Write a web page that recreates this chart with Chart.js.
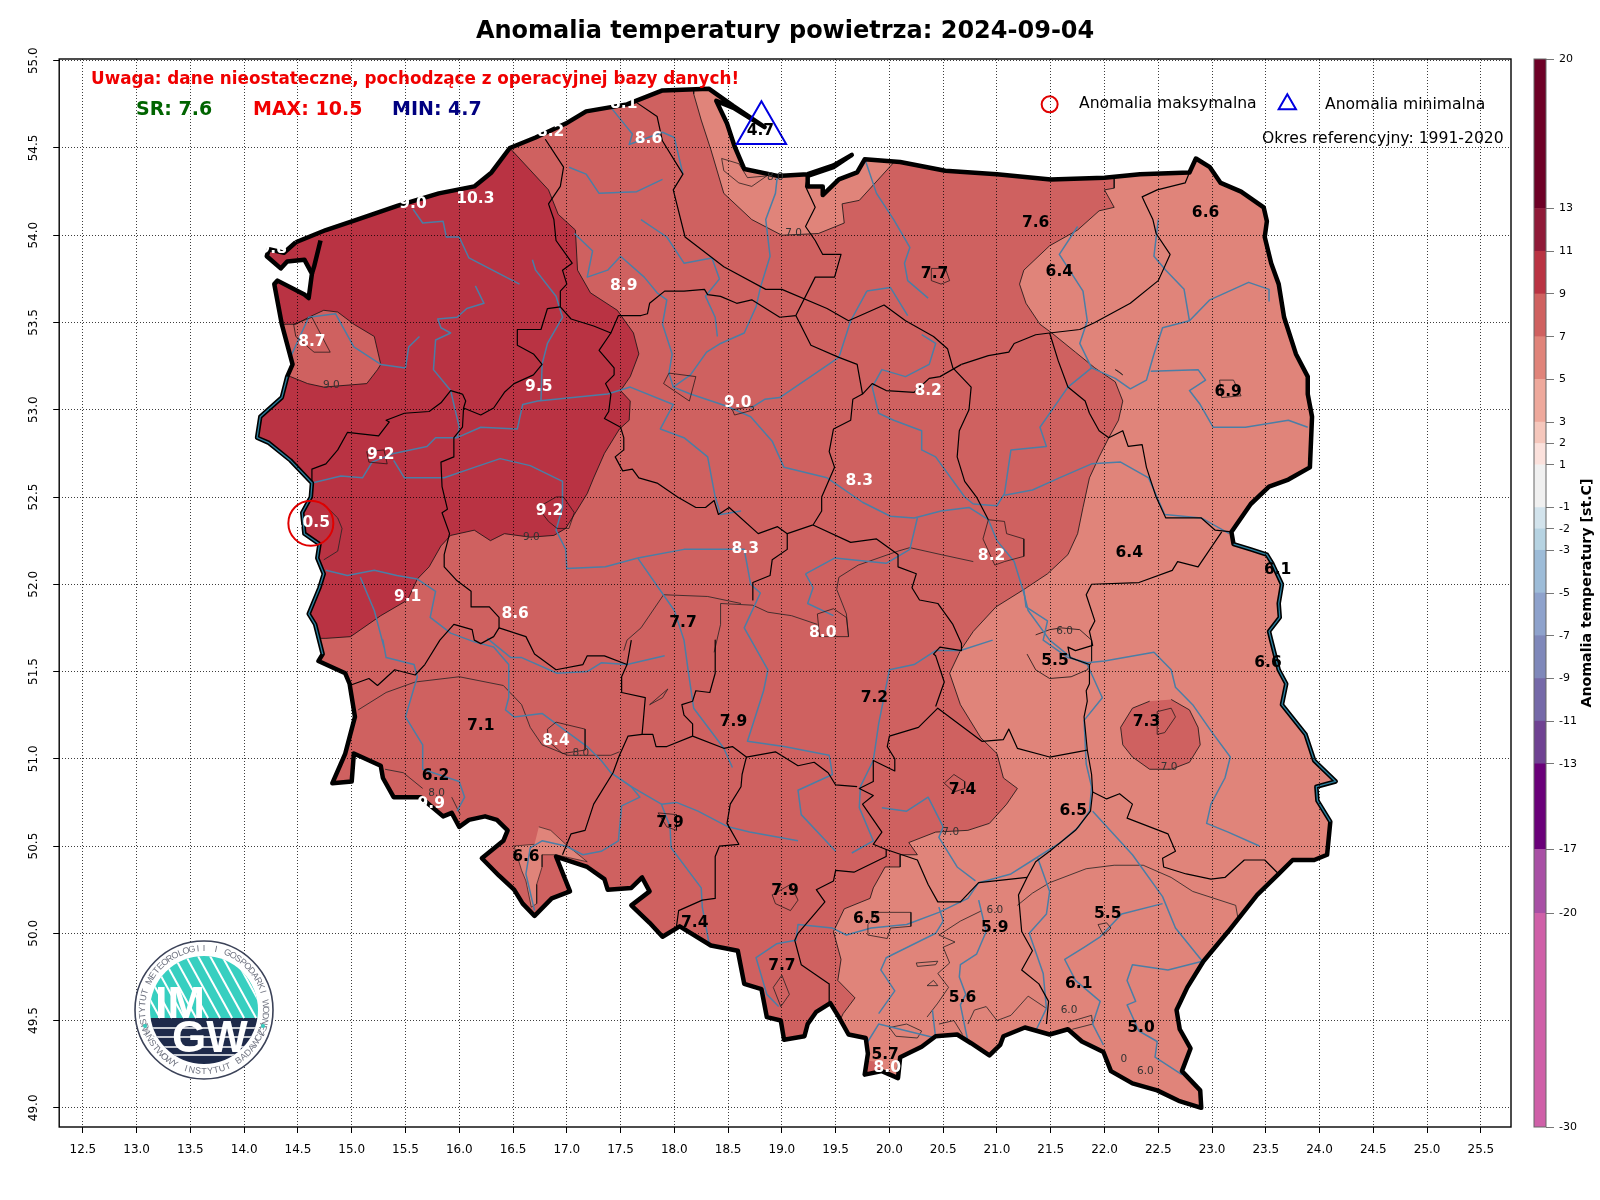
<!DOCTYPE html>
<html lang="pl">
<head>
<meta charset="utf-8">
<title>Anomalia temperatury powietrza</title>
<script src="https://cdn.jsdelivr.net/npm/chart.js@4"></script>
<style>
  html, body { margin: 0; padding: 0; background: #fff; }
  canvas { position: absolute; top: 0; }
  #map { left: 0; }
  #bar { left: 1512px; }
</style>
</head>
<body>
<canvas id="map" width="1600" height="1200"></canvas>
<canvas id="bar" width="88" height="1200"></canvas>
<script>
// osie
const lonTicks = [12.5,13,13.5,14,14.5,15,15.5,16,16.5,17,17.5,18,18.5,19,19.5,20,20.5,21,21.5,22,22.5,23,23.5,24,24.5,25,25.5];
const latTicks = [49,49.5,50,50.5,51,51.5,52,52.5,53,53.5,54,54.5,55];

// granica: wybrzeze, wschod, Bug, poludnie, zachod (Odra)
const coast = [[14.48,53.96],[14.76,54.03],[15.05,54.09],[15.43,54.17],[15.81,54.24],[16.14,54.28],[16.30,54.36],[16.47,54.50],[16.71,54.56],[16.99,54.64],[17.18,54.71],[17.56,54.75],[17.89,54.83],[18.32,54.84],[18.55,54.74],[18.84,54.62],[18.55,54.73],[18.39,54.77],[18.49,54.64],[18.56,54.51],[18.65,54.38],[18.96,54.34],[19.24,54.35],[19.48,54.40],[19.65,54.46],[19.48,54.39],[19.24,54.34],[19.24,54.28],[19.38,54.28],[19.38,54.23],[19.53,54.32],[19.70,54.36],[19.77,54.435],[20.10,54.42],[20.52,54.37],[21.0,54.35],[21.5,54.32],[22.0,54.33],[22.33,54.35],[22.79,54.36],[22.85,54.44],[22.98,54.39],[23.08,54.30],[23.27,54.25],[23.48,54.16]];
const eastLand = [[23.51,54.08],[23.49,53.99],[23.55,53.84],[23.62,53.72],[23.67,53.53],[23.78,53.32],[23.89,53.19],[23.89,53.09],[23.93,52.96],[23.91,52.67],[23.71,52.60],[23.53,52.56],[23.36,52.46],[23.18,52.30]];
const bugBorder = [[23.2,52.23],[23.36,52.20],[23.51,52.17],[23.56,52.12],[23.65,52.0],[23.62,51.89],[23.63,51.81],[23.53,51.73],[23.55,51.68],[23.62,51.51],[23.69,51.43],[23.65,51.31],[23.87,51.14],[23.95,50.99],[24.15,50.87],[23.97,50.84],[23.98,50.76],[24.10,50.64]];
const southBorder = [[24.07,50.45],[23.95,50.42],[23.75,50.42],[23.62,50.34],[23.42,50.22],[23.15,50.01],[22.92,49.84],[22.77,49.69],[22.67,49.56],[22.70,49.45],[22.80,49.34],[22.72,49.21],[22.89,49.10],[22.90,49.0],[22.69,49.04],[22.49,49.10],[22.26,49.14],[22.06,49.21],[21.99,49.32],[21.79,49.38],[21.66,49.45],[21.49,49.42],[21.26,49.46],[21.06,49.41],[21.03,49.36],[20.93,49.30],[20.76,49.37],[20.63,49.42],[20.43,49.41],[20.30,49.35],[20.1,49.29],[20.08,49.17],[19.93,49.21],[19.77,49.19],[19.80,49.31],[19.78,49.40],[19.62,49.42],[19.53,49.52],[19.45,49.60],[19.32,49.55],[19.24,49.48],[19.21,49.41],[19.02,49.39],[18.99,49.50],[18.86,49.52],[18.81,49.68],[18.65,49.71],[18.59,49.90],[18.34,49.93],[18.05,50.04],[17.89,49.98],[17.77,50.06],[17.60,50.16],[17.77,50.24],[17.70,50.32],[17.60,50.26],[17.38,50.25],[17.35,50.31],[17.19,50.38],[16.90,50.44],[17.03,50.24],[16.86,50.20],[16.70,50.10],[16.59,50.17],[16.51,50.25],[16.37,50.33],[16.21,50.43],[16.41,50.53],[16.45,50.59],[16.35,50.65],[16.24,50.67],[16.09,50.65],[16.0,50.61],[15.93,50.69],[15.85,50.67],[15.64,50.78],[15.39,50.78],[15.29,50.89],[15.27,50.96],[15.02,51.03],[15.0,50.87],[14.82,50.86],[14.94,51.03],[15.03,51.24],[14.98,51.43],[14.94,51.49],[14.69,51.56]];
const oderBorder = [[14.73,51.60],[14.66,51.77],[14.60,51.83],[14.70,51.98],[14.74,52.06],[14.68,52.15],[14.70,52.23],[14.56,52.29],[14.54,52.41],[14.62,52.50],[14.63,52.58],[14.43,52.71],[14.23,52.81],[14.12,52.84],[14.15,52.96],[14.35,53.07],[14.40,53.19]];
const lagoonShore = [[14.45,53.26],[14.35,53.49],[14.28,53.72],[14.31,53.74],[14.56,53.66],[14.60,53.64],[14.63,53.78],[14.56,53.86],[14.40,53.85],[14.34,53.81],[14.21,53.88],[14.23,53.92],[14.37,53.90],[14.48,53.96]];
const straitLine = [[14.71,53.97],[14.65,53.82],[14.63,53.78]];
const border = [...coast, ...eastLand, ...bugBorder, ...southBorder, ...oderBorder, ...lagoonShore];

// obszary izoterm
const zone9to11 = [[16.47,54.50],[16.83,54.26],[16.92,54.12],[17.08,54.03],[17.10,53.80],[17.22,53.67],[17.47,53.57],[17.62,53.44],[17.67,53.32],[17.59,53.19],[17.50,53.11],[17.59,53.05],[17.58,52.94],[17.49,52.89],[17.35,52.75],[17.25,52.61],[17.19,52.52],[17.07,52.40],[16.99,52.32],[16.88,52.28],[16.66,52.27],[16.42,52.29],[16.29,52.25],[16.14,52.31],[15.92,52.28],[15.83,52.22],[15.72,52.10],[15.61,52.03],[15.52,51.91],[15.27,51.82],[14.99,51.70],[14.76,51.69],[14.0,51.69],[14.0,54.7],[16.47,54.7]];
const zoneIslandWest = [[14.3,53.19],[14.43,53.19],[14.59,53.15],[14.74,53.13],[15.14,53.15],[15.24,53.23],[15.27,53.26],[15.21,53.42],[15.02,53.49],[14.87,53.56],[14.74,53.57],[14.60,53.53],[14.48,53.49],[14.3,53.49]];
const zone5to7East = [[22.09,54.6],[22.09,54.27],[22.0,54.26],[22.09,54.16],[21.95,54.14],[21.75,54.03],[21.49,53.94],[21.25,53.80],[21.21,53.72],[21.27,53.61],[21.40,53.49],[21.51,53.44],[21.73,53.33],[21.91,53.24],[22.10,53.16],[22.17,53.05],[22.13,52.94],[22.04,52.84],[21.95,52.73],[21.86,52.61],[21.80,52.44],[21.75,52.29],[21.66,52.17],[21.47,52.06],[21.25,51.97],[20.99,51.87],[20.78,51.73],[20.66,51.62],[20.56,51.49],[20.66,51.31],[20.85,51.12],[21.0,51.03],[21.06,50.89],[21.19,50.83],[21.09,50.74],[20.93,50.63],[20.73,50.59],[20.43,50.58],[20.18,50.52],[20.26,50.45],[20.1,50.45],[20.1,50.38],[19.96,50.38],[19.85,50.26],[19.82,50.20],[19.58,50.14],[19.48,50.01],[19.55,49.85],[19.52,49.73],[19.68,49.63],[19.57,49.54],[19.5,49.45],[19.5,48.8],[24.5,48.8],[24.5,54.6]];
const zoneLublin = [[22.62,51.34],[22.79,51.28],[22.87,51.18],[22.89,51.08],[22.79,50.98],[22.62,50.94],[22.42,50.94],[22.26,51.01],[22.17,51.08],[22.15,51.18],[22.26,51.29],[22.42,51.33]];
const zoneTatry = [[19.7,49.28],[19.92,49.26],[19.96,49.15],[19.7,49.15]];
const zoneGdansk = [[18.18,54.95],[18.18,54.81],[18.25,54.66],[18.34,54.49],[18.46,54.24],[18.72,54.09],[19.0,54.0],[19.34,54.01],[19.58,54.07],[19.56,54.18],[19.72,54.20],[20.03,54.41],[20.03,54.95]];
const zoneKlodzko = [[16.74,50.61],[16.85,50.59],[16.99,50.51],[17.19,50.41],[16.90,50.45],[16.77,50.45],[16.77,50.38],[16.72,50.28],[16.72,50.17],[16.67,50.15],[16.62,50.30],[16.58,50.36],[16.51,50.50],[16.70,50.51]];
const contour6Radom = [[21.36,51.71],[21.49,51.74],[21.6,51.75],[21.77,51.74],[21.88,51.68],[21.88,51.56],[21.84,51.51],[21.69,51.47],[21.49,51.46],[21.36,51.51],[21.28,51.60]];

// cienkie izolinie
const contourLines = [
  [[15.06,51.28],[15.32,51.38],[15.59,51.44],[16.0,51.47],[16.41,51.42],[16.58,51.31],[16.66,51.18],[16.77,51.08],[17.01,51.02],[17.41,51.02],[17.49,51.04]],
  [[15.31,50.94],[15.48,50.92],[15.66,50.83]],
  [[15.93,50.78],[16.01,50.68]],
  [[23.24,50.09],[23.22,50.16],[22.82,50.24],[22.62,50.32],[22.36,50.39],[22.09,50.39],[21.83,50.37],[21.49,50.29],[21.33,50.23],[21.19,50.16]],
  [[20.86,50.13],[20.66,50.07],[20.46,49.99],[20.61,49.95],[20.5,49.92],[20.56,49.83],[20.45,49.77],[20.55,49.69],[20.45,49.60],[20.35,49.52]],
  [[20.73,49.48],[20.79,49.56],[20.9,49.58],[21.0,49.50],[21.13,49.53],[21.29,49.64],[21.46,49.57]],
  [[19.53,52.04],[19.71,52.11],[20.08,52.19],[20.19,52.21],[20.48,52.17],[20.78,52.13]],
  [[19.53,52.04],[19.51,51.97],[19.60,51.83],[19.62,51.70]],
  [[18.43,51.89],[18.73,51.88],[18.87,51.84],[19.09,51.82],[19.33,51.77]],
  [[17.53,51.62],[17.56,51.68],[17.69,51.75],[17.90,51.94],[18.31,51.93],[18.62,51.89]],
  [[18.37,51.61],[18.43,51.77],[18.43,51.89]],
  [[14.74,52.46],[14.87,52.38],[14.91,52.32],[14.87,52.19],[14.74,52.14]],
  [[18.92,49.69],[19.0,49.76],[19.07,49.65],[18.99,49.58],[18.92,49.69]],
  [[17.77,51.31],[17.94,51.40],[17.89,51.35],[17.77,51.31]],
  [[20.25,49.83],[20.45,49.84],[20.43,49.82],[20.26,49.81],[20.25,49.83]],
  [[20.35,49.70],[20.41,49.73],[20.45,49.70],[20.35,49.70]],
  [[20.0,49.46],[20.16,49.48],[20.30,49.44],[20.26,49.40],[20.06,49.41],[20.0,49.46]],
  [[20.46,49.48],[20.60,49.50],[20.68,49.42]],
  [[21.66,49.49],[21.88,49.53],[21.89,49.48],[21.70,49.45]],
  [[22.10,53.23],[22.17,53.20],[22.13,53.22],[22.10,53.23]]
];

// granice wojewodztw
const adminLines = [
  [[16.80,54.55],[16.97,54.39],[16.94,54.28],[16.83,54.18],[16.88,54.09],[16.90,53.97],[17.05,53.84],[16.96,53.80],[17.0,53.72],[16.94,53.68],[16.94,53.59],[17.04,53.52],[17.25,53.48],[17.41,53.44],[17.48,53.54],[17.69,53.54],[17.75,53.55],[17.77,53.61],[17.91,53.68],[18.09,53.68],[18.28,53.69],[18.31,53.66],[18.43,53.65],[18.58,53.61],[18.72,53.63],[18.98,53.53],[19.13,53.54]],
  [[19.13,53.54],[19.31,53.76],[19.49,53.76],[19.55,53.89],[19.38,53.89],[19.31,53.97],[19.22,54.05],[19.31,54.16],[19.22,54.28],[19.24,54.34]],
  [[17.65,54.76],[17.84,54.68],[17.89,54.54],[18.08,54.35],[17.99,54.26],[18.10,53.99],[18.46,53.82],[18.85,53.69],[19.0,53.69],[19.42,53.58],[19.62,53.51],[19.95,53.60],[20.15,53.51],[20.41,53.42],[20.54,53.35],[20.59,53.24],[20.76,53.13],[20.74,53.0],[20.65,52.88],[20.63,52.73],[20.70,52.59],[20.81,52.50],[20.92,52.37]],
  [[20.67,53.26],[20.47,53.19],[20.37,53.18],[20.23,53.10],[19.97,53.11],[19.84,53.15],[19.75,53.09],[19.66,53.06],[19.64,52.94],[19.48,52.89],[19.44,52.76],[19.49,52.67],[19.37,52.50],[19.37,52.42],[19.29,52.34],[19.05,52.29],[19.05,52.20],[18.91,52.14],[18.89,52.05],[18.73,52.01],[18.73,51.91]],
  [[19.13,53.54],[19.27,53.37],[19.53,53.30],[19.70,53.26],[19.75,53.09]],
  [[20.67,53.26],[20.92,53.31],[21.11,53.33],[21.16,53.38],[21.36,53.43],[21.49,53.44],[21.77,53.46],[21.91,53.50],[22.24,53.61],[22.50,53.74],[22.61,53.89],[22.48,54.01],[22.45,54.09],[22.38,54.18],[22.35,54.22],[22.49,54.26],[22.75,54.30],[22.79,54.36]],
  [[21.49,53.44],[21.57,53.28],[21.66,53.13],[21.82,53.05],[21.86,52.98],[21.95,52.88],[22.04,52.84],[22.17,52.88],[22.22,52.79],[22.35,52.80],[22.39,52.67],[22.48,52.50],[22.57,52.38],[22.90,52.38],[23.03,52.31],[23.18,52.30]],
  [[23.09,52.30],[22.87,52.10],[22.68,52.13],[22.63,52.08],[22.32,52.01],[21.88,52.0],[21.83,51.94],[21.91,51.79],[21.86,51.73],[21.89,51.65],[21.73,51.62],[21.66,51.64],[21.68,51.58],[21.86,51.54],[21.86,51.43],[21.83,51.39],[21.84,51.33],[21.81,51.24],[21.84,51.05],[21.88,50.91],[21.89,50.81],[21.87,50.70],[21.73,50.59],[21.49,50.47],[21.36,50.41],[21.28,50.32],[21.2,50.22],[21.23,50.01],[21.33,49.90],[21.23,49.79],[21.39,49.71],[21.48,49.61],[21.46,49.48]],
  [[21.89,50.81],[22.02,50.77],[22.14,50.80],[22.26,50.74],[22.21,50.66],[22.59,50.57],[22.66,50.47],[22.54,50.43],[22.55,50.38],[22.76,50.34],[22.99,50.31],[23.12,50.32],[23.30,50.42],[23.49,50.42],[23.62,50.34]],
  [[21.84,51.05],[21.49,51.01],[21.19,51.06],[21.11,51.17],[21.06,51.11],[20.86,51.10],[20.45,51.29],[20.27,51.18],[20.0,51.13],[19.98,51.07],[20.05,51.0],[20.05,50.93],[19.85,50.99],[19.85,50.87],[19.72,50.83],[19.85,50.79],[19.75,50.74],[19.93,50.58],[19.85,50.51],[19.97,50.48],[20.26,50.42],[20.36,50.28],[20.45,50.18],[20.66,50.18],[20.83,50.29],[21.28,50.32]],
  [[19.97,50.48],[19.97,50.44],[19.67,50.35],[19.5,50.36],[19.48,50.30],[19.32,50.25],[19.40,50.18],[19.15,50.0],[19.12,49.96],[19.18,49.82],[19.44,49.71],[19.44,49.60]],
  [[19.29,52.34],[19.64,52.24],[19.88,52.26],[20.08,52.17],[20.08,52.10],[20.25,52.06],[20.21,51.98],[20.28,51.91],[20.45,51.89],[20.59,51.77],[20.67,51.66],[20.67,51.62],[20.47,51.64],[20.41,51.60],[20.43,51.59],[20.51,51.44],[20.43,51.30]],
  [[18.38,51.68],[18.38,51.49],[18.33,51.38],[18.20,51.39],[18.17,51.33],[18.07,51.31],[18.09,51.25],[18.17,51.20],[18.17,51.13],[18.46,51.06],[18.54,51.07],[18.67,51.01],[18.63,50.91],[18.62,50.84],[18.52,50.74],[18.49,50.63],[18.6,50.51],[18.42,50.50],[18.38,50.44],[18.38,50.20],[18.26,50.19],[18.04,50.13],[18.02,50.04]],
  [[18.67,51.01],[18.94,51.04],[19.15,50.96],[19.3,50.98],[19.43,50.92],[19.5,50.85],[19.70,50.84]],
  [[17.56,51.54],[17.51,51.47],[17.51,51.38],[17.73,51.35],[17.70,51.14],[17.80,51.14],[17.83,51.07],[17.93,51.07],[18.17,51.13]],
  [[17.70,51.14],[17.57,51.13],[17.49,51.02],[17.43,50.92],[17.25,50.74],[17.17,50.59],[17.04,50.57],[16.96,50.45]],
  [[16.37,51.75],[16.62,51.70],[16.70,51.60],[16.90,51.51],[17.15,51.54],[17.19,51.59],[17.35,51.59],[17.56,51.54],[17.60,51.68]],
  [[16.03,53.09],[15.92,53.11],[15.83,53.04],[15.72,52.99],[15.49,52.98],[15.32,52.94],[15.35,52.93],[15.25,52.85],[14.96,52.87],[14.87,52.77],[14.76,52.69],[14.63,52.66],[14.63,52.58]],
  [[16.03,53.09],[16.06,53.05],[16.04,53.01],[16.20,52.97],[16.32,53.01],[16.42,53.10],[16.51,53.15],[16.69,53.20],[16.77,53.26],[16.69,53.32],[16.54,53.37],[16.54,53.46],[16.76,53.46],[16.82,53.58],[16.94,53.59]],
  [[16.04,53.01],[16.03,52.90],[15.95,52.84],[15.95,52.73],[15.83,52.70],[15.84,52.56],[15.89,52.43],[15.84,52.41],[15.91,52.29],[15.86,52.17],[15.86,52.10],[15.98,52.02],[16.11,51.96],[16.11,51.87],[16.28,51.87],[16.37,51.81],[16.37,51.75]],
  [[16.37,51.75],[16.32,51.70],[16.20,51.66],[16.14,51.68],[16.12,51.74],[15.95,51.77],[15.82,51.68],[15.68,51.54],[15.59,51.48],[15.40,51.51],[15.24,51.42],[15.16,51.46],[14.98,51.42]],
  [[17.41,53.44],[17.30,53.34],[17.44,53.24],[17.44,53.20],[17.36,53.15],[17.41,53.09],[17.39,52.99],[17.35,52.95],[17.50,52.90],[17.53,52.84],[17.53,52.77],[17.45,52.73],[17.52,52.65],[17.61,52.66],[17.67,52.61],[17.84,52.58],[18.03,52.50],[18.20,52.44],[18.29,52.44],[18.37,52.48],[18.41,52.40],[18.51,52.44],[18.78,52.29],[18.96,52.33],[19.05,52.29]]
];

// miasta
const cityOutlines = [
  [[20.92,52.37],[21.07,52.36],[21.09,52.29],[21.25,52.26],[21.25,52.16],[21.07,52.13],[20.98,52.11],[20.87,52.26],[20.92,52.37]],
  [[22.49,51.27],[22.62,51.29],[22.66,51.24],[22.56,51.15],[22.49,51.14],[22.49,51.22],[22.49,51.27]],
  [[19.80,50.05],[19.88,50.12],[20.20,50.12],[20.20,50.04],[20.01,50.03],[19.98,49.97],[19.80,49.99],[19.80,50.05]],
  [[19.33,51.83],[19.48,51.86],[19.60,51.81],[19.62,51.70],[19.35,51.70],[19.33,51.83]],
  [[16.82,51.17],[16.90,51.21],[17.17,51.17],[17.17,51.05],[16.96,51.03],[16.83,51.10],[16.82,51.17]],
  [[16.73,52.44],[16.90,52.50],[16.97,52.50],[17.07,52.41],[17.02,52.32],[16.91,52.32],[16.83,52.36],[16.73,52.44]],
  [[14.46,53.49],[14.63,53.53],[14.74,53.40],[14.80,53.33],[14.65,53.33],[14.48,53.42],[14.46,53.49]],
  [[15.14,52.76],[15.30,52.77],[15.33,52.69],[15.16,52.70],[15.14,52.76]],
  [[23.07,53.17],[23.20,53.17],[23.27,53.08],[23.09,53.07],[23.07,53.17]],
  [[20.39,53.81],[20.52,53.81],[20.56,53.74],[20.48,53.72],[20.39,53.74],[20.39,53.81]],
  [[17.95,53.21],[18.20,53.19],[18.14,53.05],[17.90,53.15],[17.95,53.21]],
  [[18.54,53.0],[18.73,53.02],[18.74,53.0],[18.56,52.97],[18.54,53.0]],
  [[20.51,50.86],[20.60,50.91],[20.70,50.87],[20.70,50.83],[20.60,50.81],[20.51,50.86]],
  [[17.85,50.69],[18.02,50.68],[18.02,50.59],[17.93,50.61],[17.85,50.69]],
  [[21.94,50.05],[22.02,50.06],[22.06,50.03],[21.99,49.99],[21.94,50.05]],
  [[18.91,50.22],[19.08,50.28],[19.15,50.19],[19.08,50.13],[18.94,50.17],[18.91,50.22]],
  [[18.44,54.44],[18.60,54.41],[18.68,54.33],[18.86,54.34],[18.72,54.28],[18.60,54.30],[18.46,54.37],[18.44,54.44]]
];

// rzeki
const riverLines = [
  [[18.97,49.58],[18.86,49.65],[18.76,49.86],[18.95,49.94],[19.13,49.96],[19.15,50.05],[19.47,50.03],[19.60,49.99],[19.83,50.03],[20.16,50.05],[20.46,50.12],[20.73,50.20],[20.83,50.29],[21.13,50.34],[21.36,50.43],[21.59,50.52],[21.76,50.61],[21.86,50.70],[21.88,50.84],[21.83,50.97],[21.81,51.22],[21.98,51.35],[21.84,51.54],[21.69,51.58],[21.49,51.68],[21.29,51.85],[21.25,51.95],[21.16,52.13],[21.0,52.25],[20.92,52.37],[20.74,52.44],[20.48,52.42],[20.23,52.38],[20.01,52.39],[19.75,52.47],[19.42,52.61],[19.02,52.67],[18.91,52.82],[18.71,52.96],[18.49,53.02],[18.15,53.09],[17.99,53.13],[18.15,53.2],[18.3,53.33],[18.43,53.38],[18.65,53.44],[18.76,53.59],[18.80,53.70],[18.89,53.88],[18.85,54.09],[18.94,54.24],[18.96,54.35]],
  [[14.76,52.08],[14.96,52.05],[15.21,52.08],[15.42,52.05],[15.61,52.03],[15.78,51.96],[15.73,51.81],[15.92,51.72],[16.14,51.67],[16.32,51.64],[16.46,51.54],[16.46,51.35],[16.43,51.28],[16.51,51.24],[16.77,51.26],[16.99,51.16],[17.19,51.07],[17.32,50.99],[17.41,50.92],[17.60,50.84],[17.88,50.74],[17.96,50.61],[17.97,50.49],[18.25,50.26],[18.26,50.15],[18.33,49.92]],
  [[15.08,52.04],[15.21,51.85],[15.30,51.64],[15.29,51.68],[15.32,51.58],[15.58,51.54],[15.61,51.47],[15.50,51.24],[15.66,51.08],[15.66,50.94],[16.0,50.87],[16.05,50.78],[15.98,50.70]],
  [[16.26,51.69],[16.48,51.58],[16.58,51.58],[16.91,51.49],[17.19,51.50],[17.32,51.55],[17.56,51.54],[17.91,51.59]],
  [[17.41,50.92],[17.60,50.84],[17.68,50.78],[17.51,50.73],[17.48,50.53],[17.32,50.47],[17.15,50.45],[16.99,50.50],[16.77,50.53],[16.66,50.49],[16.62,50.34],[16.70,50.13]],
  [[17.88,50.74],[18.02,50.75],[18.22,50.70],[18.50,50.61],[18.70,50.58],[19.15,50.53]],
  [[14.63,52.58],[14.90,52.62],[15.10,52.61],[15.19,52.70],[15.39,52.75],[15.70,52.79],[15.78,52.84],[15.98,52.84],[16.20,52.90],[16.54,52.89],[16.59,53.03],[16.73,53.05],[17.38,53.09],[17.59,53.13],[17.99,53.03],[17.87,52.89],[18.09,52.84],[18.31,52.73],[18.38,52.50],[18.43,52.40],[18.62,52.42]],
  [[15.39,52.71],[15.49,52.61],[15.86,52.61],[16.14,52.67],[16.38,52.72],[16.66,52.68],[16.96,52.59],[16.96,52.44],[16.90,52.31],[16.99,52.20],[17.0,52.09],[17.36,52.10],[17.66,52.15],[18.09,52.20],[18.54,52.20],[18.65,52.20],[18.71,52.0],[18.80,51.95],[18.65,51.75],[18.87,51.51],[18.83,51.39],[18.68,51.10],[19.02,51.07],[19.44,51.02],[19.47,50.91],[19.15,50.82],[19.18,50.68],[19.50,50.47]],
  [[17.66,52.15],[18.0,51.85],[18.09,51.68],[18.13,51.50],[18.18,51.29],[18.46,51.06],[18.54,50.95]],
  [[15.57,54.15],[15.66,54.07],[15.85,54.08],[15.88,53.99],[16.0,53.99],[16.09,53.87],[16.56,53.72]],
  [[16.68,53.86],[16.71,53.80],[16.90,53.65],[16.96,53.53],[16.82,53.38],[16.77,53.26],[16.76,53.05]],
  [[16.15,53.71],[16.23,53.61],[16.07,53.58],[15.98,53.53],[15.80,53.52],[15.83,53.47],[15.92,53.44],[15.78,53.40],[15.76,53.23],[15.92,53.11],[16.0,52.90],[15.98,52.84]],
  [[15.63,53.42],[15.53,53.36],[15.50,53.24],[15.27,53.26],[15.02,53.36],[14.85,53.55],[14.60,53.53],[14.40,53.26]],
  [[17.07,54.01],[17.24,53.91],[17.19,53.76],[17.38,53.80],[17.50,53.88],[17.72,53.76],[17.84,53.67],[17.93,53.63],[17.89,53.49],[17.98,53.32],[17.95,53.21],[17.99,53.13]],
  [[17.69,54.09],[17.93,53.99],[18.09,53.84],[18.35,53.87],[18.42,53.75],[18.29,53.65],[18.38,53.53],[18.40,53.42]],
  [[17.40,54.74],[17.61,54.58],[17.58,54.52],[17.89,54.59],[18.0,54.56],[18.08,54.35]],
  [[17.02,54.39],[17.18,54.35],[17.30,54.24],[17.65,54.25],[17.89,54.32]],
  [[19.79,53.68],[20.01,53.70],[20.17,53.54]],
  [[19.79,53.68],[19.64,53.51],[19.53,53.30],[18.98,53.07],[18.84,53.06],[18.71,53.01]],
  [[19.77,54.44],[19.88,54.24],[20.04,54.09],[20.19,53.93],[20.14,53.84],[20.17,53.74],[20.36,53.64]],
  [[20.30,53.43],[20.43,53.38],[20.37,53.26],[20.15,53.19],[19.93,53.23],[19.84,53.13],[19.90,52.98],[20.04,52.94],[20.30,52.88],[20.30,52.77],[20.43,52.73],[20.70,52.50],[20.78,52.46]],
  [[23.53,53.62],[23.53,53.69],[23.34,53.73],[22.98,53.63],[22.79,53.51],[22.54,53.47],[22.46,53.32],[22.39,53.17],[22.24,53.12],[22.10,53.18],[21.88,53.24],[21.66,53.13],[21.40,52.90],[21.46,52.79],[21.13,52.77],[21.07,52.52],[21.0,52.45],[20.78,52.46]],
  [[22.50,54.09],[22.46,53.88],[22.57,53.80],[22.74,53.69],[22.79,53.51]],
  [[21.75,54.05],[21.58,53.89],[21.80,53.68],[21.84,53.51],[21.77,53.38],[21.88,53.24]],
  [[23.89,52.90],[23.71,52.94],[23.31,52.90],[23.01,52.90],[22.89,53.03],[22.79,53.11],[22.94,53.17],[22.87,53.23],[22.43,53.22]],
  [[23.16,52.29],[22.90,52.38],[22.56,52.40],[22.41,52.61],[22.15,52.70],[21.88,52.69],[21.58,52.61],[21.33,52.54],[21.07,52.51]],
  [[21.25,51.97],[21.27,51.87],[21.47,51.79],[21.43,51.68],[21.66,51.58],[21.84,51.55],[22.0,51.56],[22.46,51.61],[22.62,51.51],[22.66,51.41],[22.82,51.31],[22.99,51.16],[23.17,51.01],[23.12,50.89],[22.99,50.74],[22.95,50.63],[23.15,50.58],[23.44,50.50]],
  [[20.96,51.68],[20.66,51.62],[20.43,51.62],[20.23,51.54],[20.0,51.51],[19.90,51.20],[19.85,50.99],[19.73,50.84],[19.72,50.72],[19.85,50.53],[19.65,50.46]],
  [[19.93,50.72],[20.16,50.70],[20.36,50.78],[20.5,50.61],[20.46,50.55],[20.63,50.38],[20.80,50.30]],
  [[19.22,52.06],[19.49,52.15],[19.97,52.12],[20.19,52.20],[20.26,52.38]],
  [[19.22,52.06],[19.29,51.98],[19.24,51.89],[19.48,51.82]],
  [[21.38,50.43],[21.49,50.24],[21.46,50.11],[21.30,50.0],[21.43,49.77],[21.46,49.57],[21.36,49.44]],
  [[21.89,50.70],[22.26,50.45],[22.54,50.21],[22.66,50.03],[22.91,49.84],[22.59,49.79],[22.26,49.82],[22.21,49.73],[22.29,49.61],[22.21,49.59],[22.32,49.44],[22.49,49.38],[22.47,49.29],[22.72,49.19]],
  [[22.54,50.17],[22.16,50.11],[21.96,49.98],[21.81,49.92],[21.63,49.85],[21.73,49.73],[21.96,49.61],[21.89,49.48],[21.99,49.36]],
  [[20.83,50.19],[20.90,50.01],[20.81,49.88],[20.66,49.82],[20.65,49.75],[20.71,49.65],[20.66,49.59],[20.73,49.38],[20.9,49.31]],
  [[20.46,50.15],[20.5,50.07],[20.43,50.0],[19.97,49.86],[19.92,49.79],[20.05,49.67],[19.90,49.54]],
  [[20.40,49.56],[20.43,49.40],[19.90,49.48],[19.80,49.38]]
];

// wartosci stacji i izolinii
const stationLon = [17.53,16.85,17.76,15.57,16.15,18.80,21.36,22.94,14.27,20.42,21.58,17.53,14.63,16.74,18.59,20.36,23.15,15.27,19.72,16.84,14.62,18.66,20.95,22.23,23.61,15.52,16.52,18.08,19.38,21.54,23.52,19.86,22.39,16.20,18.55,16.90,20.68,15.78,15.74,21.71,17.96,16.62,19.03,19.79,22.03,20.98,18.19,19.0,21.76,20.68,22.34,19.96,19.98];
const stationLat = [54.75,54.59,54.55,54.18,54.21,54.60,54.07,54.13,53.92,53.78,53.79,53.71,53.39,53.13,53.04,53.11,53.10,52.74,52.59,52.42,52.35,52.20,52.16,52.18,52.08,51.93,51.83,51.78,51.72,51.56,51.55,51.35,51.21,51.19,51.21,51.10,50.82,50.90,50.74,50.70,50.63,50.44,50.24,50.08,50.11,50.03,50.06,49.81,49.71,49.63,49.46,49.30,49.23];
const stationVal = ["8.1","8.2","8.6","9.0","10.3","4.7","7.6","6.6","9.8","7.7","6.4","8.9","8.7","9.5","9.0","8.2","6.9","9.2","8.3","9.2","10.5","8.3","8.2","6.4","6.1","9.1","8.6","7.7","8.0","5.5","6.6","7.2","7.3","7.1","7.9","8.4","7.4","6.2","9.9","6.5","7.9","6.6","7.9","6.5","5.5","5.9","7.4","7.7","6.1","5.6","5.0","5.7","8.0"];
const isoLon = [19.11,18.94,14.81,16.67,21.63,22.60,17.13,15.79,20.57,20.98,21.67,22.38,22.18];
const isoLat = [54.01,54.33,53.14,52.27,51.73,50.95,51.03,50.80,50.58,50.13,49.56,49.21,49.28];
const isoVal = ["7.0","8.0","9.0","9.0","6.0","7.0","8.0","8.0","7.0","6.0","6.0","6.0","0"];

const maxPoint = [[14.62,52.35]];
const minPoint = [[18.81,54.605]];
const legendMax = [[21.49,54.75]];
const legendMin = [[23.70,54.75]];

// skala kolorow
const barEdges = [-30,-20,-17,-13,-11,-9,-7,-5,-3,-2,-1,1,2,3,5,7,9,11,13,20];
const barColors = ["#cf60a8","#a850a5","#6a0079","#6f4292","#7569a8","#7f88ba","#8ea2cc","#9dbcd8","#b6d3e2","#d2e3ec","#f0f0f0","#fbe1dc","#f5c7bc","#eea99c","#e0847a","#cf6160","#b93343","#8f1a38","#6d0026"];

const C_LAND = "#cf6160", C_DARK = "#b93343", C_LIGHT = "#e0847a";
const FONT = "'DejaVu Sans', sans-serif";

const pts = (arr) => arr.map(([x, y]) => ({ x, y }));
const areaDs = (arr, color, lineW) => ({
  data: pts(arr), showLine: true, fill: "shape", backgroundColor: color,
  borderColor: "#111", borderWidth: lineW, pointRadius: 0, tension: 0,
});
const lineDs = (arr, color, w) => ({
  data: pts(arr), showLine: true, fill: false, borderColor: color,
  borderWidth: w, pointRadius: 0, tension: 0, borderJoinStyle: "round",
});
const markerDs = (arr, style, color, r, w) => ({
  data: pts(arr), showLine: false, pointStyle: style, pointRadius: r,
  pointBorderColor: color, pointBorderWidth: w, pointBackgroundColor: "rgba(0,0,0,0)",
});

// warstwy od spodu do gory
const layers = [
  areaDs(border, C_LAND, 0),
  areaDs(zone9to11, C_DARK, 0.8),
  areaDs(zoneIslandWest, C_LAND, 0.8),
  areaDs(zone5to7East, C_LIGHT, 0.8),
  areaDs(zoneLublin, C_LAND, 0.8),
  areaDs(zoneTatry, C_LAND, 0),
  areaDs(zoneGdansk, C_LIGHT, 0.8),
  areaDs(zoneKlodzko, C_LIGHT, 0.6),
  areaDs(contour6Radom, "rgba(0,0,0,0)", 0.8),
  ...contourLines.map((l) => lineDs(l, "#222", 0.8)),
  ...riverLines.map((l) => lineDs(l, "#4a7ea6", 1.5)),
  ...adminLines.map((l) => lineDs(l, "#000", 1.2)),
  ...cityOutlines.map((l) => lineDs(l, "#111", 0.7)),
];
const topLayers = [
  Object.assign(lineDs(border, "#000", 4.5), { endClip: true }),
  lineDs(straitLine, "#000", 4.5),
  lineDs(bugBorder, "#2b7f9e", 1.3),
  lineDs(oderBorder, "#2b7f9e", 1.3),
  markerDs(maxPoint, "circle", "#e00000", 22.5, 2),
  markerDs(minPoint, "triangle", "#0000e0", 28.5, 2),
  markerDs(legendMax, "circle", "#e00000", 8, 2),
  markerDs(legendMin, "triangle", "#0000e0", 10, 2),
];
const allLayers = [...layers, ...topLayers];
allLayers.forEach((d, i) => { d.order = allLayers.length - i; });

function traceBorder(chart) {
  const { ctx, scales } = chart;
  ctx.beginPath();
  border.forEach(([x, y], i) => {
    const px = scales.x.getPixelForValue(x), py = scales.y.getPixelForValue(y);
    if (i === 0) ctx.moveTo(px, py); else ctx.lineTo(px, py);
  });
  ctx.closePath();
}

// logo IMGW
function drawLogo(ctx) {
  const cx = 204, cy = 1010, R = 69, r = 54, split = 1018;
  ctx.save();
  ctx.beginPath(); ctx.arc(cx, cy, R, 0, Math.PI * 2); ctx.fillStyle = "#fff"; ctx.fill();
  ctx.lineWidth = 1.6; ctx.strokeStyle = "#3b4258"; ctx.stroke();
  ctx.save();
  ctx.beginPath(); ctx.arc(cx, cy, r, 0, Math.PI * 2); ctx.clip();
  ctx.fillStyle = "#37cfc0"; ctx.fillRect(cx - r, cy - r, r * 2, split - cy + r);
  ctx.fillStyle = "#1e2a4a"; ctx.fillRect(cx - r, split, r * 2, r * 2);
  ctx.strokeStyle = "#fff"; ctx.lineWidth = 2;
  for (let i = -10; i < 14; i++) {
    ctx.beginPath();
    ctx.moveTo(cx - r + i * 12, cy - r);
    ctx.lineTo(cx - r + i * 12 + (split - cy + r) * 0.55, split);
    ctx.stroke();
  }
  ctx.lineWidth = 1.5;
  [1028, 1037, 1047, 1055].forEach((y) => {
    ctx.beginPath(); ctx.moveTo(cx - r, y); ctx.lineTo(cx + r, y); ctx.stroke();
  });
  ctx.restore();
  ctx.fillStyle = "#fff";
  ctx.textAlign = "left"; ctx.textBaseline = "alphabetic";
  ctx.font = "bold 45px 'Liberation Sans', sans-serif";
  ctx.fillText("IM", 155, 1018);
  ctx.font = "bold 44px 'Liberation Sans', sans-serif";
  ctx.fillText("GW", 172, 1052);
  const ring = (text, mid, step, flip) => {
    ctx.font = "9px 'Liberation Sans', sans-serif";
    ctx.fillStyle = "#6f7380"; ctx.textAlign = "center"; ctx.textBaseline = "middle";
    [...text].forEach((ch, i) => {
      const a = mid + (i - (text.length - 1) / 2) * step * (flip ? -1 : 1);
      ctx.save();
      ctx.translate(cx + 61.5 * Math.cos(a), cy + 61.5 * Math.sin(a));
      ctx.rotate(a + (flip ? -Math.PI / 2 : Math.PI / 2));
      ctx.fillText(ch, 0, 0);
      ctx.restore();
    });
  };
  ring("INSTYTUT METEOROLOGII I GOSPODARKI WODNEJ", -Math.PI / 2, 0.098, false);
  ring("PAŃSTWOWY INSTYTUT BADAWCZY", Math.PI / 2, 0.1, true);
  ctx.fillStyle = "#37cfc0";
  [[145, 1026], [263, 1026]].forEach(([x, y]) => {
    ctx.beginPath(); ctx.arc(x, y, 2, 0, Math.PI * 2); ctx.fill();
  });
  ctx.restore();
}

const notes = [
  ["Uwaga: dane nieostateczne, pochodzące z operacyjnej bazy danych!", 91, 80, "bold 16.8px", "#f00000"],
  ["SR: 7.6", 136, 110, "bold 19px", "#006400"],
  ["MAX: 10.5", 253, 110, "bold 19px", "#f00000"],
  ["MIN: 4.7", 392, 110, "bold 19px", "#000080"],
  ["Anomalia maksymalna", 1079, 104, "15.6px", "#000"],
  ["Anomalia minimalna", 1325, 105, "15.6px", "#000"],
  ["Okres referencyjny: 1991-2020", 1262, 139, "15.6px", "#000"],
];

const mapPlugin = {
  id: "mapExtras",
  beforeDatasetsDraw(chart) {
    chart.ctx.save();
    traceBorder(chart);
    chart.ctx.clip();
  },
  beforeDatasetDraw(chart, args) {
    if (chart.data.datasets[args.index].endClip) chart.ctx.restore();
  },
  afterDraw(chart) {
    const { ctx, scales, chartArea: a } = chart;
    ctx.save();
    ctx.strokeStyle = "#000"; ctx.lineWidth = 1.4;
    ctx.strokeRect(a.left, a.top, a.right - a.left, a.bottom - a.top);
    drawLogo(ctx);
    ctx.textAlign = "center"; ctx.textBaseline = "middle";
    ctx.font = `10.5px ${FONT}`; ctx.fillStyle = "#333";
    isoVal.forEach((t, i) => {
      ctx.fillText(t, scales.x.getPixelForValue(isoLon[i]), scales.y.getPixelForValue(isoLat[i]));
    });
    ctx.font = `bold 15.5px ${FONT}`;
    stationVal.forEach((t, i) => {
      ctx.fillStyle = parseFloat(t) >= 8 ? "#fff" : "#000";
      ctx.fillText(t, scales.x.getPixelForValue(stationLon[i]), scales.y.getPixelForValue(stationLat[i]));
    });
    ctx.textAlign = "left";
    notes.forEach(([t, x, y, f, c]) => {
      ctx.font = `${f} ${FONT}`; ctx.fillStyle = c; ctx.fillText(t, x, y);
    });
    ctx.restore();
  },
};

new Chart(document.getElementById("map"), {
  type: "scatter",
  data: { datasets: allLayers },
  plugins: [mapPlugin],
  options: {
    responsive: false,
    animation: false,
    events: [],
    layout: { padding: { left: 0, right: 89, top: 0, bottom: 43 } },
    plugins: {
      legend: { display: false },
      tooltip: { enabled: false },
      title: {
        display: true, fullSize: false,
        text: "Anomalia temperatury powietrza: 2024-09-04",
        color: "#000",
        font: { family: FONT, size: 24, weight: "bold" },
        padding: { top: 17, bottom: 13.2 },
      },
    },
    scales: {
      x: {
        type: "linear", min: 12.28, max: 25.78,
        afterFit: (s) => { s.height = 30; },
        afterBuildTicks: (s) => { s.ticks = lonTicks.map((value) => ({ value })); },
        grid: { z: 1, color: "rgba(0,0,0,0.85)", lineWidth: 0.9, tickColor: "#000", tickLength: 6, tickWidth: 1 },
        border: { display: false, dash: [1, 2] },
        ticks: {
          autoSkip: false, maxRotation: 0, color: "#000",
          font: { family: FONT, size: 12 }, padding: 10, callback: (v) => v.toFixed(1),
        },
      },
      y: {
        type: "linear", min: 48.89, max: 55.01,
        afterFit: (s) => { s.width = 59.2; },
        afterBuildTicks: (s) => { s.ticks = latTicks.map((value) => ({ value })); },
        grid: { z: 1, color: "rgba(0,0,0,0.85)", lineWidth: 0.9, tickColor: "#000", tickLength: 6, tickWidth: 1 },
        border: { display: false, dash: [1, 2] },
        ticks: {
          autoSkip: false, minRotation: 90, maxRotation: 90,
          crossAlign: "center", color: "#000",
          font: { family: FONT, size: 12 }, padding: 6, callback: (v) => v.toFixed(1),
        },
      },
    },
  },
});

// pasek kolorow
const barPlugin = {
  id: "barFrame",
  afterDraw(chart) {
    const { ctx, chartArea: a } = chart;
    ctx.save();
    ctx.strokeStyle = "#666"; ctx.lineWidth = 1;
    ctx.strokeRect(a.left, a.top, a.right - a.left, a.bottom - a.top);
    ctx.translate(75, 593);
    ctx.rotate(-Math.PI / 2);
    ctx.font = `bold 14.2px ${FONT}`; ctx.fillStyle = "#000";
    ctx.textAlign = "center"; ctx.textBaseline = "middle";
    ctx.fillText("Anomalia temperatury [st.C]", 0, 0);
    ctx.restore();
  },
};

new Chart(document.getElementById("bar"), {
  type: "bar",
  data: {
    labels: [""],
    datasets: barColors.map((c, i) => ({
      data: [[barEdges[i], barEdges[i + 1]]],
      backgroundColor: c, borderWidth: 0, grouped: false,
      barPercentage: 1, categoryPercentage: 1,
    })),
  },
  plugins: [barPlugin],
  options: {
    responsive: false,
    animation: false,
    events: [],
    layout: { padding: { left: 22, right: 0, top: 59, bottom: 73 } },
    plugins: { legend: { display: false }, tooltip: { enabled: false } },
    scales: {
      x: { display: false },
      y: {
        position: "right", min: -30, max: 20,
        afterFit: (s) => { s.width = 54; },
        afterBuildTicks: (s) => { s.ticks = barEdges.map((value) => ({ value })); },
        grid: { drawOnChartArea: false, tickColor: "#777", tickLength: 8 },
        border: { display: false },
        ticks: { autoSkip: false, color: "#000", font: { family: FONT, size: 11 }, padding: 5, callback: (v) => String(v) },
      },
    },
  },
});
</script>
</body>
</html>
